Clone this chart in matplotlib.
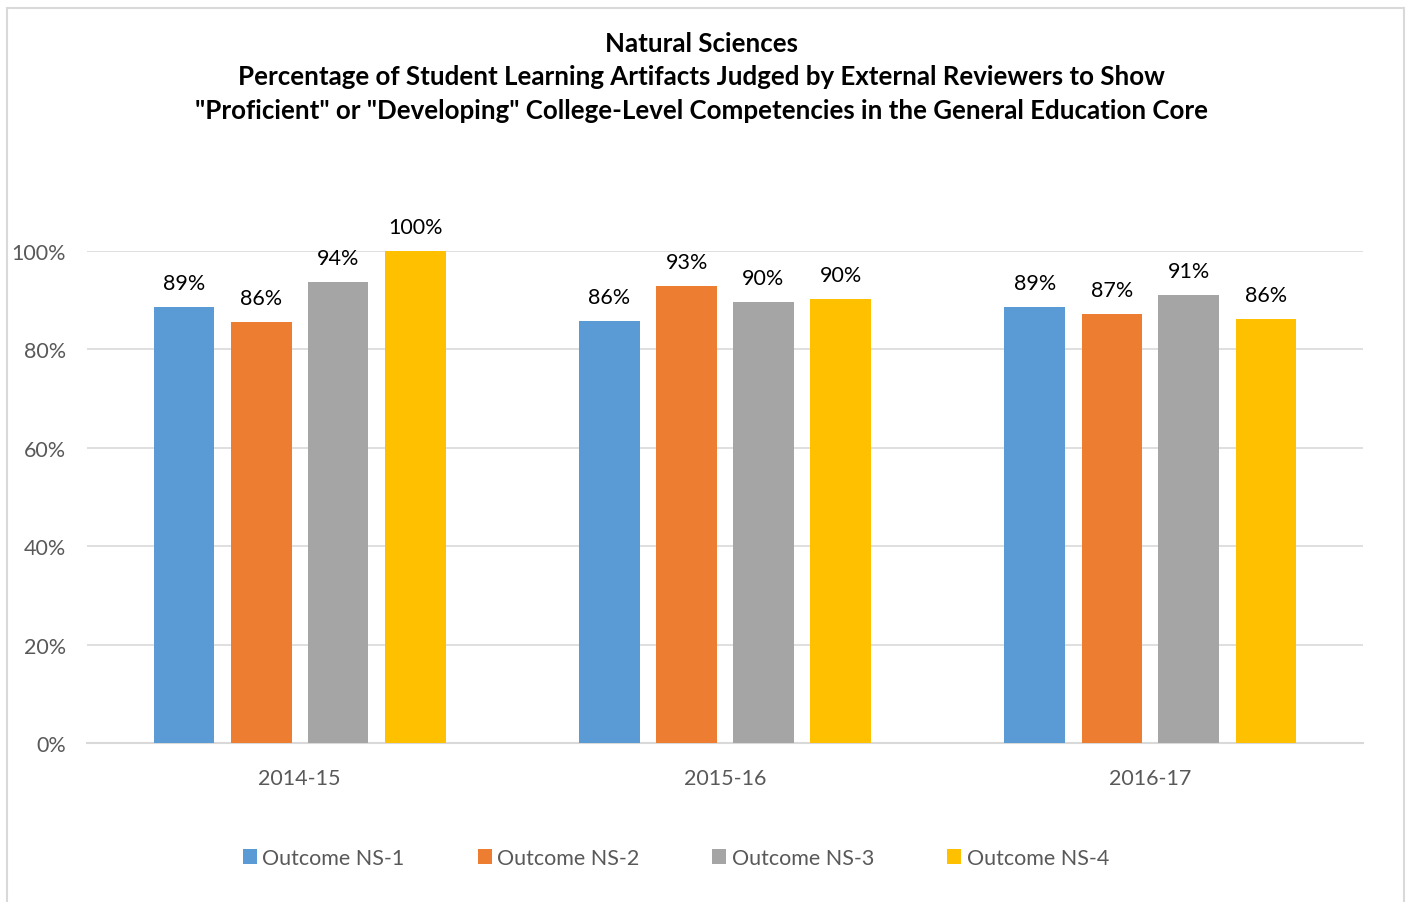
import matplotlib
matplotlib.use('Agg')
import matplotlib.pyplot as plt
import numpy as np
from matplotlib.patches import Rectangle

years = ['2014-15', '2015-16', '2016-17']
series_names = ['Outcome NS-1', 'Outcome NS-2', 'Outcome NS-3', 'Outcome NS-4']
ns1 = [0.886, 0.858, 0.886]
ns2 = [0.856, 0.929, 0.872]
ns3 = [0.937, 0.897, 0.911]
ns4 = [1.00, 0.902, 0.862]
colors = ['#5B9BD5', '#ED7D31', '#A5A5A5', '#FFC000']
title = ('Natural Sciences\n'
         'Percentage of Student Learning Artifacts Judged by External Reviewers to Show\n'
         '"Proficient" or "Developing" College-Level Competencies in the General Education Core')

plt.rcParams['font.family'] = ['Lato', 'DejaVu Sans']

fig = plt.figure(figsize=(14.06, 9.03), dpi=100)
fig.patches.append(Rectangle((7 / 1406, -0.01), 1397 / 1406, 1.0, transform=fig.transFigure,
                             fill=False, edgecolor='#D9D9D9', linewidth=1.5))
ax = fig.add_axes([87 / 1406, 159 / 903, 1276 / 1406, 492 / 903])

x = np.arange(len(years))
offsets = [-0.272, -0.09, 0.09, 0.272]
width = 0.143
for vals, off, col, name in zip([ns1, ns2, ns3, ns4], offsets, colors, series_names):
    bars = ax.bar(x + off, vals, width, color=col, label=name, zorder=3)
    for b, v in zip(bars, vals):
        ax.text(b.get_x() + b.get_width() / 2, v + 0.028, '%d%%' % round(v * 100),
                ha='center', va='bottom', fontsize=15.5, color='#000000', clip_on=False)

ax.set_xlim(-0.5, 2.5)
ax.set_ylim(0, 1)
ax.set_yticks(np.arange(0, 1.01, 0.2))
ax.set_yticklabels(['%d%%' % v for v in range(0, 101, 20)])
ax.set_xticks(x)
ax.set_xticklabels(years)
ax.tick_params(axis='both', length=0, labelsize=15.5, labelcolor='#595959')
ax.tick_params(axis='y', pad=15)
ax.tick_params(axis='x', pad=18)
ax.grid(axis='y', color='#D9D9D9', linewidth=1.2, zorder=0)
for s in ['top', 'right', 'left']:
    ax.spines[s].set_visible(False)
ax.spines['bottom'].set_color('#D9D9D9')
ax.spines['bottom'].set_linewidth(1.5)

fig.text(0.499, 1 - 32 / 903, title, ha='center', va='top', fontsize=18.6, fontweight='bold',
         linespacing=1.47)

fig.legend(loc='center', bbox_to_anchor=(676 / 1406, 1 - 859 / 903), ncol=4, frameon=False,
           fontsize=15.5, handlelength=0.65, handleheight=0.65, handletextpad=0.25,
           columnspacing=3.4, labelcolor='#595959')

fig.savefig('out.png', dpi=100)
